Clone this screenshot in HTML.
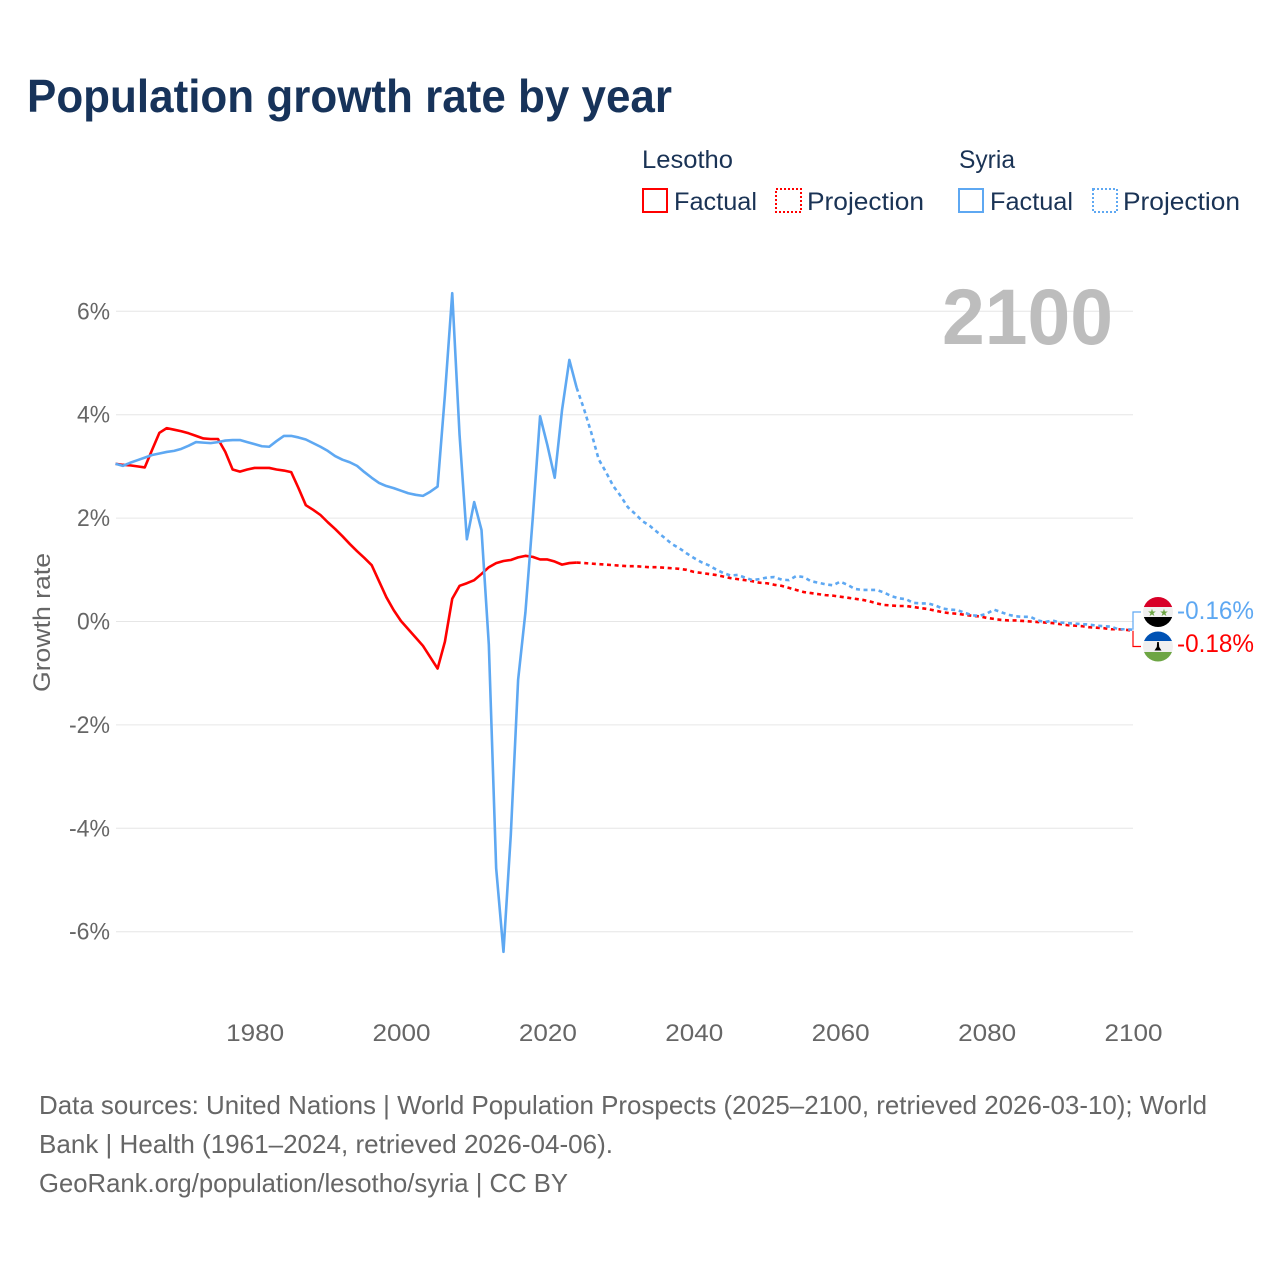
<!DOCTYPE html>
<html lang="en">
<head>
<meta charset="utf-8">
<title>Population growth rate by year</title>
<style>
  html, body { margin: 0; padding: 0; background: #ffffff; }
  svg { display: block; font-family: "Liberation Sans", sans-serif; }
</style>
</head>
<body>
<svg id="chart" xmlns="http://www.w3.org/2000/svg" width="1280" height="1280" viewBox="0 0 1280 1280">
  <rect x="0" y="0" width="1280" height="1280" fill="#ffffff"/>
  <text x="27" y="112" font-size="46" font-weight="700" fill="#17335a" textLength="645" lengthAdjust="spacingAndGlyphs">Population growth rate by year</text>

  <g font-size="25" fill="#1a3355">
    <text x="642" y="168" textLength="91" lengthAdjust="spacingAndGlyphs">Lesotho</text>
    <text x="959" y="168" textLength="56" lengthAdjust="spacingAndGlyphs">Syria</text>
    <rect x="643" y="189" width="24" height="23" fill="none" stroke="#ff0000" stroke-width="2"/>
    <text x="674" y="210" textLength="83" lengthAdjust="spacingAndGlyphs">Factual</text>
    <rect x="776" y="189" width="25" height="23" fill="none" stroke="#ff0000" stroke-width="2" stroke-dasharray="2 2"/>
    <text x="807" y="210" textLength="117" lengthAdjust="spacingAndGlyphs">Projection</text>
    <rect x="959" y="189" width="24" height="23" fill="none" stroke="#5ea8f2" stroke-width="2"/>
    <text x="990" y="210" textLength="83" lengthAdjust="spacingAndGlyphs">Factual</text>
    <rect x="1093" y="189" width="24" height="23" fill="none" stroke="#5ea8f2" stroke-width="2" stroke-dasharray="2 2"/>
    <text x="1123" y="210" textLength="117" lengthAdjust="spacingAndGlyphs">Projection</text>
  </g>

  <text transform="translate(50 622.5) rotate(-90)" text-anchor="middle" font-size="24" fill="#666666" textLength="139" lengthAdjust="spacingAndGlyphs">Growth rate</text>

  <g id="grid"></g>
  <g id="yLabels" font-size="24" fill="#666666" text-anchor="end"></g>
  <g id="xLabels" font-size="24" fill="#666666" text-anchor="middle"></g>

  <text x="1113" y="344" text-anchor="end" font-size="79" font-weight="700" fill="#bdbdbd" textLength="171" lengthAdjust="spacingAndGlyphs">2100</text>

  <g id="series"></g>

  <path id="leaderSyria" fill="none" stroke="#5ea8f2" stroke-width="1.2"/>
  <path id="leaderLesotho" fill="none" stroke="#ff0000" stroke-width="1.2"/>

  <defs>
    <clipPath id="clipSyria"><circle cx="1158" cy="612" r="15"/></clipPath>
    <clipPath id="clipLesotho"><circle cx="1158" cy="646.500" r="15"/></clipPath>
  </defs>
  <g clip-path="url(#clipSyria)">
    <rect x="1143" y="597" width="30" height="10" fill="#d80027"/>
    <rect x="1143" y="607" width="30" height="10" fill="#f0f0f0"/>
    <rect x="1143" y="617" width="30" height="10" fill="#000000"/>
    <text x="1152" y="616" font-size="10" text-anchor="middle" fill="#6da544">★</text>
    <text x="1164" y="616" font-size="10" text-anchor="middle" fill="#6da544">★</text>
  </g>
  <g clip-path="url(#clipLesotho)">
    <rect x="1143" y="631" width="30" height="10" fill="#0052b4"/>
    <rect x="1143" y="641" width="30" height="11" fill="#f0f0f0"/>
    <rect x="1143" y="652" width="30" height="10" fill="#6da544"/>
    <path d="M1157.200 642 L1158.800 642 L1159.200 647 L1161.500 650.500 L1154.500 650.500 L1156.800 647 Z" fill="#000000"/>
  </g>

  <text id="valueSyria" x="1177" y="619" font-size="25" fill="#5ea8f2" textLength="77" lengthAdjust="spacingAndGlyphs"></text>
  <text id="valueLesotho" x="1177" y="652" font-size="25" fill="#ff0000" textLength="77" lengthAdjust="spacingAndGlyphs"></text>

  <g font-size="26" fill="#666666">
    <text x="39" y="1114" textLength="1168" lengthAdjust="spacingAndGlyphs">Data sources: United Nations | World Population Prospects (2025–2100, retrieved 2026-03-10); World</text>
    <text x="39" y="1153" textLength="574" lengthAdjust="spacingAndGlyphs">Bank | Health (1961–2024, retrieved 2026-04-06).</text>
    <text x="39" y="1192" textLength="529" lengthAdjust="spacingAndGlyphs">GeoRank.org/population/lesotho/syria | CC BY</text>
  </g>
</svg>

<script>
const factualStartYear = 1961;
const projectionStartYear = 2025;
const yTickValues = [6, 4, 2, 0, -2, -4, -6];
const xTickYears = [1980, 2000, 2020, 2040, 2060, 2080, 2100];

const lesothoFactual = [
  3.05, 3.03, 3.02, 3.00, 2.98, 3.32, 3.65, 3.74, 3.71, 3.68,
  3.64, 3.59, 3.54, 3.53, 3.53, 3.28, 2.94, 2.90, 2.94, 2.97,
  2.97, 2.97, 2.94, 2.92, 2.89, 2.58, 2.25, 2.16, 2.06, 1.92,
  1.79, 1.65, 1.50, 1.36, 1.23, 1.09, 0.78, 0.47, 0.22, 0.01,
  -0.15, -0.31, -0.47, -0.69, -0.91, -0.39, 0.44, 0.69, 0.74, 0.80,
  0.92, 1.05, 1.13, 1.17, 1.19, 1.24, 1.27, 1.25, 1.20, 1.20,
  1.16, 1.10, 1.13, 1.14
];
const lesothoProjection = [
  1.13, 1.12, 1.11, 1.10, 1.09, 1.08, 1.07, 1.07, 1.06, 1.05,
  1.05, 1.04, 1.03, 1.02, 1.00, 0.96, 0.94, 0.92, 0.90, 0.87,
  0.84, 0.82, 0.80, 0.78, 0.75, 0.74, 0.71, 0.69, 0.65, 0.61,
  0.57, 0.55, 0.53, 0.51, 0.50, 0.48, 0.46, 0.44, 0.42, 0.39,
  0.35, 0.32, 0.31, 0.30, 0.30, 0.28, 0.26, 0.24, 0.21, 0.18,
  0.16, 0.15, 0.13, 0.11, 0.10, 0.07, 0.05, 0.03, 0.02, 0.02,
  0.01, 0.00, -0.01, -0.02, -0.03, -0.05, -0.07, -0.08, -0.09, -0.11,
  -0.12, -0.13, -0.15, -0.15, -0.16, -0.18
];
const syriaFactual = [
  3.05, 3.01, 3.07, 3.12, 3.17, 3.22, 3.25, 3.28, 3.30, 3.34,
  3.40, 3.47, 3.46, 3.45, 3.47, 3.50, 3.51, 3.51, 3.47, 3.43,
  3.39, 3.38, 3.49, 3.59, 3.59, 3.56, 3.52, 3.45, 3.38, 3.30,
  3.20, 3.13, 3.08, 3.01, 2.89, 2.78, 2.68, 2.62, 2.58, 2.53,
  2.48, 2.45, 2.43, 2.51, 2.61, 4.38, 6.35, 3.61, 1.59, 2.31,
  1.77, -0.45, -4.77, -6.39, -4.13, -1.13, 0.18, 2.00, 3.97, 3.41,
  2.78, 4.09, 5.06, 4.52
];
const syriaProjection = [
  4.11, 3.65, 3.14, 2.89, 2.62, 2.43, 2.21, 2.08, 1.94, 1.85,
  1.73, 1.62, 1.50, 1.42, 1.32, 1.23, 1.15, 1.09, 1.01, 0.94,
  0.89, 0.90, 0.85, 0.80, 0.82, 0.85, 0.86, 0.81, 0.80, 0.88,
  0.86, 0.78, 0.75, 0.72, 0.70, 0.77, 0.71, 0.63, 0.61, 0.61,
  0.61, 0.56, 0.49, 0.45, 0.43, 0.36, 0.35, 0.35, 0.31, 0.25,
  0.23, 0.22, 0.17, 0.12, 0.11, 0.15, 0.23, 0.18, 0.13, 0.10,
  0.09, 0.09, 0.02, -0.01, 0.02, -0.02, -0.03, -0.04, -0.05, -0.06,
  -0.08, -0.09, -0.10, -0.15, -0.15, -0.16
];

const SVG_NS = 'http://www.w3.org/2000/svg';
const RED = '#ff0000';
const BLUE = '#5ea8f2';

function xScale(year) {
  return 115.5 + (year - 1961) * (1133 - 115.5) / (2100 - 1961);
}
function yScale(value) {
  return 621.5 - value * 51.7;
}
function pathFrom(startYear, values) {
  return values.map(function (v, i) {
    return (i ? 'L' : 'M') + xScale(startYear + i).toFixed(2) + ' ' + yScale(v).toFixed(2);
  }).join(' ');
}
function formatPercent(v) {
  return v.toFixed(2) + '%';
}

const grid = document.getElementById('grid');
const yLabels = document.getElementById('yLabels');
yTickValues.forEach(function (v) {
  const line = document.createElementNS(SVG_NS, 'line');
  
  
  line.setAttribute('x1', 116);
  line.setAttribute('x2', 1133);
  line.setAttribute('y1', yScale(v));
  line.setAttribute('y2', yScale(v));
  line.setAttribute('stroke', '#e6e6e6');
  line.setAttribute('stroke-width', 1);
  grid.appendChild(line);

  const label = document.createElementNS(SVG_NS, 'text');
  
  
  label.setAttribute('x', 110);
  label.setAttribute('y', yScale(v) + 8);
  label.setAttribute('textLength', v < 0 ? 41 : 33);
  label.setAttribute('lengthAdjust', 'spacingAndGlyphs');
  label.textContent = v + '%';
  yLabels.appendChild(label);
});

const xLabels = document.getElementById('xLabels');
xTickYears.forEach(function (year) {
  const label = document.createElementNS(SVG_NS, 'text');
  
  
  label.setAttribute('x', xScale(year) + 0.5);
  label.setAttribute('y', 1041);
  label.setAttribute('textLength', 58);
  label.setAttribute('lengthAdjust', 'spacingAndGlyphs');
  label.textContent = String(year);
  xLabels.appendChild(label);
});

const seriesGroup = document.getElementById('series');
function addLine(d, color, dashed) {
  const path = document.createElementNS(SVG_NS, 'path');
  path.setAttribute('d', d);
  path.setAttribute('fill', 'none');
  path.setAttribute('stroke', color);
  path.setAttribute('stroke-width', 2.6);
  path.setAttribute('stroke-linejoin', 'round');
  if (dashed) path.setAttribute('stroke-dasharray', '4 3.6');
  seriesGroup.appendChild(path);
  return path;
}

const lesothoFactualLine = addLine(pathFrom(factualStartYear, lesothoFactual), RED, false);



const lesothoProjectionLine = addLine(
  pathFrom(projectionStartYear - 1, [lesothoFactual[lesothoFactual.length - 1]].concat(lesothoProjection)), RED, true);



const syriaFactualLine = addLine(pathFrom(factualStartYear, syriaFactual), BLUE, false);



const syriaProjectionLine = addLine(
  pathFrom(projectionStartYear - 1, [syriaFactual[syriaFactual.length - 1]].concat(syriaProjection)), BLUE, true);



const syriaLast = syriaProjection[syriaProjection.length - 1];
const lesothoLast = lesothoProjection[lesothoProjection.length - 1];
document.getElementById('leaderSyria').setAttribute('d',
  'M1133 ' + yScale(syriaLast).toFixed(1) + ' L1133 612 L1141 612');
document.getElementById('leaderLesotho').setAttribute('d',
  'M1133 ' + yScale(lesothoLast).toFixed(1) + ' L1133 646.5 L1141 646.5');
document.getElementById('valueSyria').textContent = formatPercent(syriaLast);
document.getElementById('valueLesotho').textContent = formatPercent(lesothoLast);
</script>
</body>
</html>
